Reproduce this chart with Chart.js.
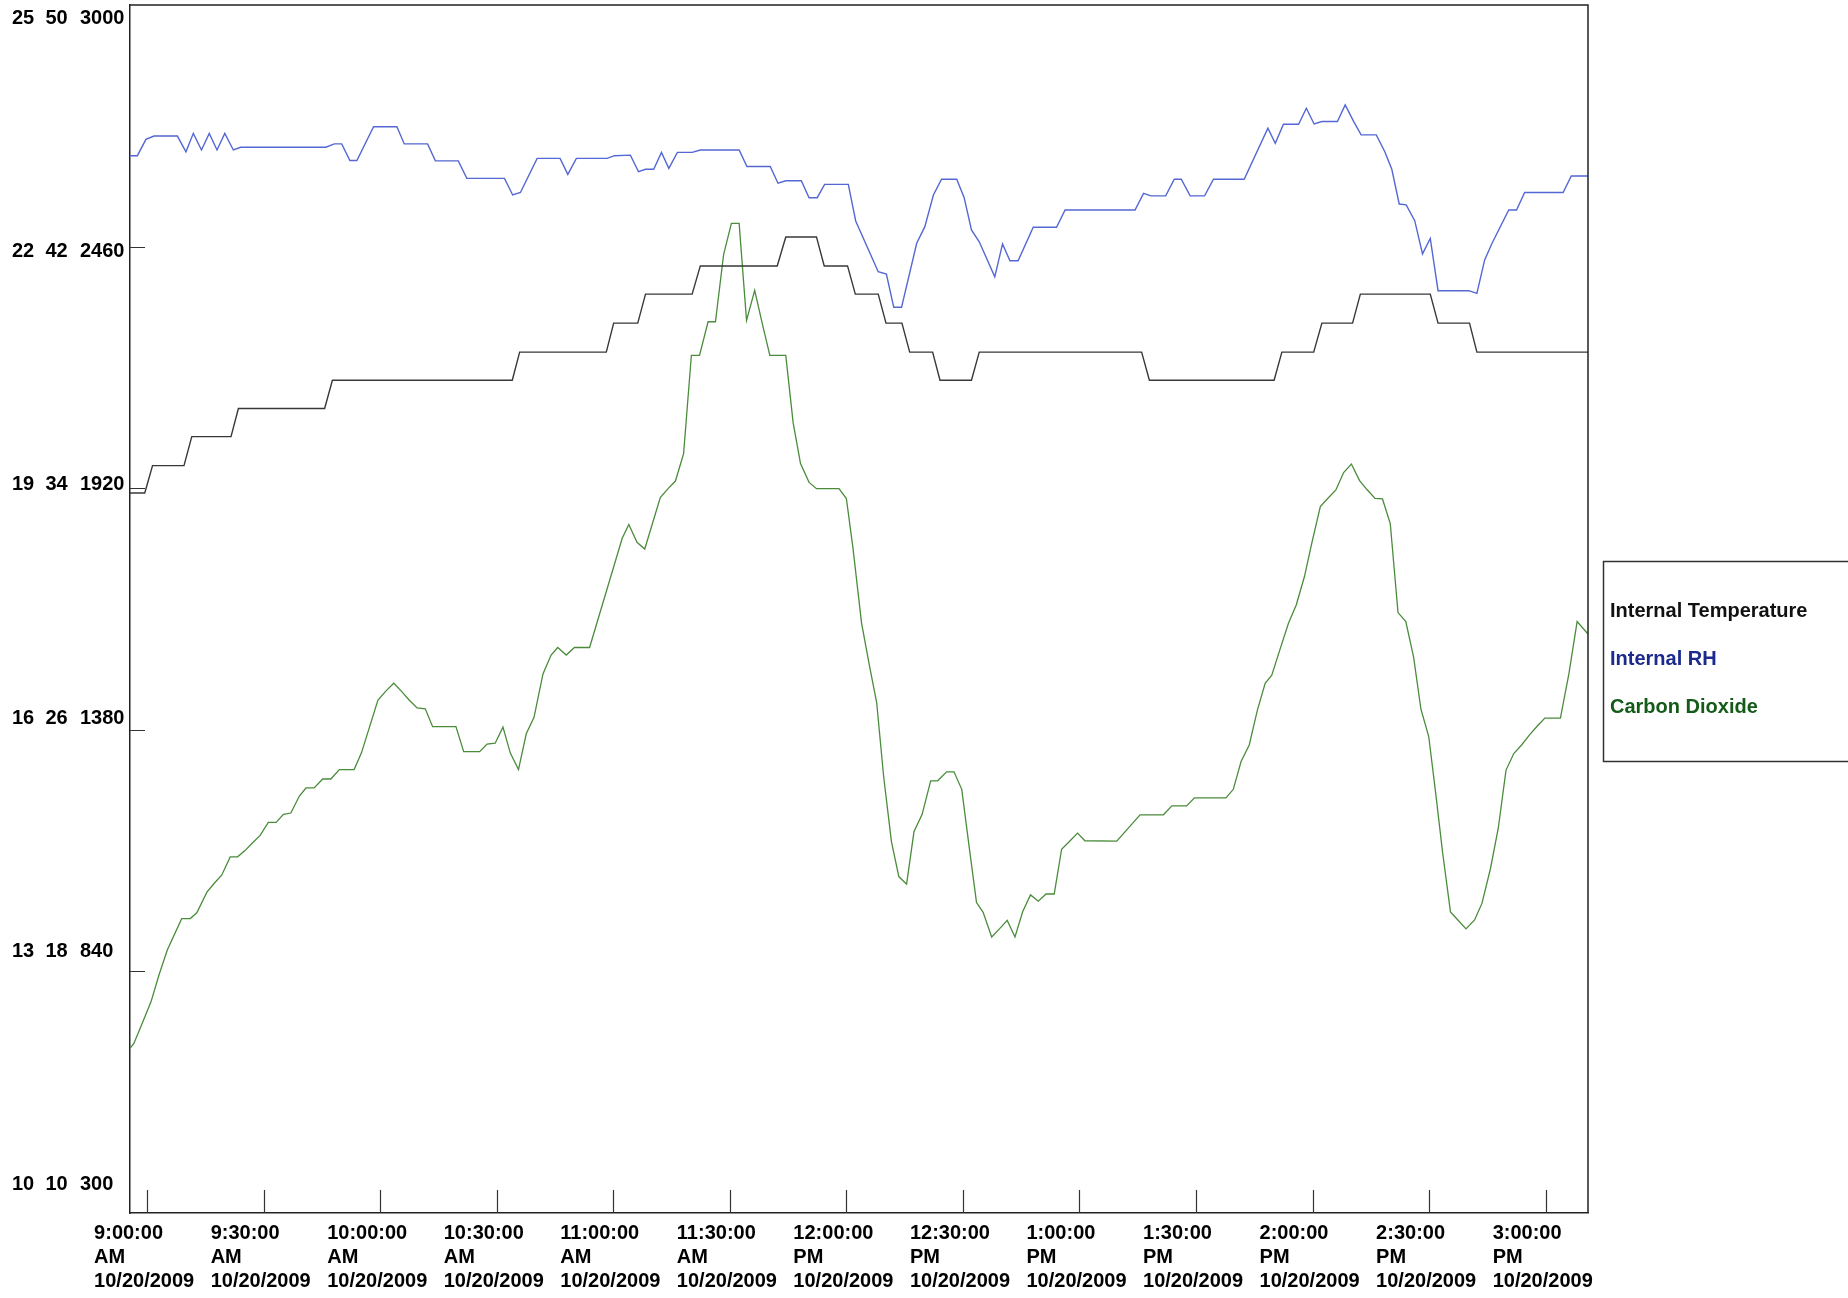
<!DOCTYPE html>
<html>
<head>
<meta charset="utf-8">
<title>Internal conditions log</title>
<script src="https://cdn.jsdelivr.net/npm/chart.js@4.4.1/dist/chart.umd.min.js"></script>
<style>
  html, body { margin: 0; padding: 0; background: #ffffff; }
  #wrap { width: 1848px; height: 1298px; position: relative; }
  canvas { display: block; }
</style>
</head>
<body>
<div id="wrap"><canvas id="chart" width="1848" height="1298"></canvas></div>
<script>
// ---- logged readings (time in minutes after 9:00 AM) ----
const seriesNames = ['Internal Temperature', 'Internal RH', 'Carbon Dioxide'];

const tempMinutes = [
  -4.4, -0.6, 1.4, 9.5, 11.5, 21.6, 23.5, 45.7, 47.7, 94.0,
  95.9, 118.2, 120.1, 126.3, 128.3, 140.3, 142.4, 162.2, 164.4, 172.3,
  174.3, 180.3, 182.3, 188.2, 190.2, 194.3, 196.3, 202.2, 204.1, 212.2,
  214.2, 256.0, 258.0, 290.1, 292.1, 300.3, 302.4, 310.3, 312.3, 330.3,
  332.3, 340.4, 342.3, 370.9
];
const tempValues = [
  18.94, 18.94, 19.28, 19.28, 19.64, 19.64, 19.99, 19.99, 20.34, 20.34,
  20.69, 20.69, 21.05, 21.05, 21.41, 21.41, 21.76, 21.76, 22.12, 22.12,
  21.76, 21.76, 21.41, 21.41, 21.05, 21.05, 20.69, 20.69, 20.34, 20.34,
  20.69, 20.69, 20.34, 20.34, 20.69, 20.69, 21.05, 21.05, 21.41, 21.41,
  21.05, 21.05, 20.69, 20.69
];

const rhMinutes = [
  -4.4, -2.5, -0.3, 1.8, 7.8, 10.0, 11.9, 14.0, 16.0, 18.0,
  20.0, 22.2, 24.1, 46.0, 48.2, 50.1, 52.2, 54.0, 58.3, 64.3,
  66.2, 72.2, 74.2, 80.1, 82.3, 92.0, 94.1, 96.1, 100.4, 106.3,
  108.3, 110.5, 118.4, 120.3, 124.4, 126.5, 128.3, 130.4, 132.4, 134.3,
  136.5, 140.3, 142.4, 152.4, 154.4, 160.4, 162.4, 164.4, 168.4, 170.4,
  172.5, 174.4, 180.5, 182.4, 188.2, 190.3, 192.2, 194.2, 198.1, 200.2,
  202.4, 204.5, 208.4, 210.3, 212.2, 214.2, 218.2, 220.2, 222.1, 224.2,
  228.1, 234.1, 236.3, 254.3, 256.5, 258.4, 262.2, 264.4, 266.2, 268.5,
  272.2, 274.5, 282.4, 288.5, 290.4, 292.5, 296.4, 298.4, 300.4, 302.4,
  306.4, 308.4, 310.6, 312.5, 316.4, 318.6, 320.4, 322.3, 324.1, 326.3,
  328.3, 330.3, 332.3, 340.2, 342.3, 344.3, 346.2, 350.5, 352.5, 354.6,
  364.5, 366.6, 370.9
];
const rhValues = [
  45.01, 45.01, 45.55, 45.66, 45.66, 45.14, 45.75, 45.20, 45.75, 45.20,
  45.75, 45.20, 45.29, 45.29, 45.40, 45.40, 44.85, 44.85, 45.97, 45.97,
  45.40, 45.40, 44.84, 44.84, 44.26, 44.26, 43.71, 43.79, 44.92, 44.92,
  44.39, 44.92, 44.92, 45.01, 45.03, 44.48, 44.56, 44.56, 45.12, 44.59,
  45.12, 45.12, 45.20, 45.20, 44.65, 44.65, 44.10, 44.18, 44.18, 43.62,
  43.62, 44.06, 44.06, 42.85, 41.17, 41.09, 39.99, 39.99, 42.11, 42.66,
  43.71, 44.23, 44.23, 43.63, 42.55, 42.16, 41.00, 42.09, 41.53, 41.53,
  42.64, 42.64, 43.21, 43.21, 43.76, 43.68, 43.68, 44.23, 44.23, 43.68,
  43.68, 44.23, 44.23, 45.92, 45.42, 46.05, 46.05, 46.58, 46.06, 46.14,
  46.14, 46.69, 46.14, 45.70, 45.70, 45.14, 44.56, 43.41, 43.38, 42.86,
  41.76, 42.27, 40.54, 40.54, 40.45, 41.56, 42.11, 43.21, 43.21, 43.79,
  43.79, 44.34, 44.34
];

const co2Minutes = [
  -4.4, -3.4, -1.2, 1.0, 3.1, 5.2, 8.9, 11.1, 12.8, 15.4,
  17.3, 19.2, 21.4, 23.3, 25.2, 27.1, 29.1, 31.2, 33.2, 35.1,
  37.0, 39.2, 40.9, 43.0, 45.2, 47.3, 49.5, 53.3, 55.2, 59.4,
  61.5, 63.5, 65.5, 67.5, 69.5, 71.6, 73.5, 79.5, 81.5, 85.6,
  87.5, 89.6, 91.6, 93.5, 95.6, 97.6, 99.6, 101.9, 104.0, 105.7,
  107.9, 110.0, 113.9, 122.3, 124.0, 126.1, 128.1, 132.1, 134.1, 136.0,
  138.1, 140.1, 142.2, 144.4, 146.3, 148.4, 150.4, 152.4, 154.3, 156.4,
  158.4, 160.3, 164.4, 166.3, 168.2, 170.4, 172.3, 178.1, 180.0, 181.7,
  183.9, 185.9, 187.8, 189.6, 191.6, 193.5, 195.5, 197.4, 199.5, 201.7,
  203.5, 205.8, 207.7, 209.7, 211.6, 213.5, 215.2, 217.4, 219.4, 221.4,
  223.4, 225.4, 227.4, 229.4, 231.4, 233.5, 235.4, 237.6, 239.5, 241.4,
  249.6, 255.6, 261.6, 263.8, 267.6, 269.6, 277.7, 279.6, 281.6, 283.7,
  285.8, 287.8, 289.5, 291.7, 293.8, 295.8, 297.9, 299.8, 302.0, 303.9,
  306.0, 308.0, 310.0, 312.1, 314.0, 316.1, 318.0, 320.0, 322.0, 324.0,
  326.0, 327.9, 329.9, 331.6, 333.5, 335.5, 337.4, 339.5, 341.7, 343.6,
  345.8, 347.8, 349.8, 351.8, 353.8, 355.8, 357.8, 359.8, 363.8, 366.0,
  368.1, 370.9
];
const co2Values = [
  668, 679, 725, 772, 833, 888, 958, 958, 971, 1017,
  1037, 1055, 1096, 1096, 1110, 1127, 1144, 1173, 1173, 1191,
  1194, 1232, 1250, 1250, 1270, 1270, 1291, 1291, 1329, 1446,
  1467, 1484, 1466, 1446, 1429, 1427, 1387, 1387, 1331, 1331,
  1348, 1350, 1386, 1328, 1291, 1371, 1408, 1505, 1547, 1564,
  1547, 1564, 1564, 1808, 1839, 1799, 1784, 1899, 1919, 1936,
  1997, 2217, 2217, 2292, 2292, 2442, 2512, 2512, 2295, 2362,
  2286, 2217, 2217, 2066, 1975, 1933, 1919, 1919, 1897, 1786,
  1619, 1525, 1441, 1275, 1130, 1052, 1035, 1152, 1191, 1266,
  1266, 1286, 1286, 1247, 1119, 994, 972, 917, 935, 954,
  917, 974, 1011, 997, 1013, 1013, 1113, 1132, 1149, 1132,
  1131, 1190, 1190, 1210, 1210, 1228, 1228, 1247, 1309, 1346,
  1424, 1484, 1502, 1562, 1618, 1659, 1722, 1797, 1879, 1897,
  1916, 1955, 1974, 1937, 1917, 1897, 1896, 1841, 1642, 1622,
  1543, 1426, 1365, 1245, 1104, 973, 955, 935, 955, 992,
  1070, 1160, 1290, 1327, 1346, 1368, 1388, 1406, 1406, 1506,
  1622, 1594
];

// ---- axis ticks ----
const tempTicks = [10, 13, 16, 19, 22, 25];
const rhTicks = [10, 18, 26, 34, 42, 50];
const co2Ticks = [300, 840, 1380, 1920, 2460, 3000];
const timeTickMinutes = [0, 30, 60, 90, 120, 150, 180, 210, 240, 270, 300, 330, 360];
const timeRange = [-4.4, 370.9];
const logDate = '10/20/2009';

const FONT = '"Liberation Sans", Arial, Helvetica, sans-serif';

function clockLabel(min) {
  const total = 9 * 60 + min;
  const h24 = Math.floor(total / 60);
  const mm = total % 60;
  const h12 = ((h24 + 11) % 12) + 1;
  return [h12 + ':' + String(mm).padStart(2, '0') + ':00', h24 < 12 ? 'AM' : 'PM', logDate];
}

const toPoints = (xs, ys) => xs.map((x, i) => ({ x: x, y: ys[i] }));

// Plot box, inward tick marks, stacked value labels and the text legend
const framePlugin = {
  id: 'frame',
  afterDraw(chart) {
    const { ctx, chartArea: a, scales } = chart;
    ctx.save();

    ctx.strokeStyle = '#222';
    ctx.lineWidth = 1.5;
    ctx.beginPath();
    ctx.moveTo(a.left, a.top);
    ctx.lineTo(a.right, a.top);
    ctx.lineTo(a.right, a.bottom);
    ctx.stroke();

    ctx.strokeStyle = '#333';
    ctx.lineWidth = 1.2;
    ctx.beginPath();
    scales.x.ticks.forEach(t => {
      const px = Math.round(scales.x.getPixelForValue(t.value)) + 0.5;
      ctx.moveTo(px, a.bottom);
      ctx.lineTo(px, a.bottom - 23);
    });
    tempTicks.slice(1, -1).forEach(v => {
      const py = Math.round(scales.yT.getPixelForValue(v)) + 0.5;
      ctx.moveTo(a.left, py);
      ctx.lineTo(a.left + 15, py);
    });
    ctx.stroke();

    // three value columns per row: temperature, RH, CO2
    ctx.fillStyle = '#000';
    ctx.font = 'bold 20px ' + FONT;
    ctx.textAlign = 'left';
    ctx.textBaseline = 'middle';
    tempTicks.forEach((t, i) => {
      const py = scales.yT.getPixelForValue(t);
      const y = a.top + 13 + (py - a.top) * 0.966;
      ctx.fillText(String(t), 12, y);
      ctx.fillText(String(rhTicks[i]), 45.5, y);
      ctx.fillText(String(co2Ticks[i]), 80, y);
    });

    // legend
    const legendColors = ['#111111', '#1b2a8c', '#145a18'];
    ctx.strokeStyle = '#333';
    ctx.lineWidth = 1.5;
    ctx.strokeRect(1603.5, 561.5, 400, 200);
    ctx.font = 'bold 20px ' + FONT;
    chart.data.datasets.forEach((ds, i) => {
      ctx.fillStyle = legendColors[i];
      ctx.fillText(ds.label, 1610, 611 + i * 48);
    });

    ctx.restore();
  }
};

new Chart(document.getElementById('chart'), {
  type: 'line',
  data: {
    datasets: [
      { label: seriesNames[0], data: toPoints(tempMinutes, tempValues), yAxisID: 'yT',
        borderColor: '#383838', borderWidth: 1.4 },
      { label: seriesNames[1], data: toPoints(rhMinutes, rhValues), yAxisID: 'yR',
        borderColor: '#5467d4', borderWidth: 1.4 },
      { label: seriesNames[2], data: toPoints(co2Minutes, co2Values), yAxisID: 'yC',
        borderColor: '#4a8c3b', borderWidth: 1.3 }
    ]
  },
  options: {
    responsive: false,
    devicePixelRatio: 1,
    animation: false,
    elements: { point: { radius: 0 }, line: { tension: 0, fill: false } },
    layout: { padding: { top: 5, right: 260, bottom: 0, left: 0 } },
    plugins: { legend: { display: false }, tooltip: { enabled: false } },
    scales: {
      x: {
        type: 'linear', position: 'bottom',
        min: timeRange[0], max: timeRange[1],
        afterBuildTicks: s => { s.ticks = timeTickMinutes.map(v => ({ value: v })); },
        afterFit: s => { s.height = 85; },
        grid: { display: false, drawTicks: false },
        border: { display: true, color: '#222', width: 1.5 },
        ticks: {
          autoSkip: false, maxRotation: 0, minRotation: 0,
          align: 'start', labelOffset: -53, padding: 9,
          color: '#000',
          font: { family: FONT, size: 20, weight: 'bold', lineHeight: 1.18 },
          callback: v => clockLabel(v)
        }
      },
      yT: {
        type: 'linear', position: 'left', min: tempTicks[0], max: tempTicks[tempTicks.length - 1],
        afterFit: s => { s.width = 130; },
        grid: { display: false, drawTicks: false },
        border: { display: true, color: '#222', width: 1.5 },
        ticks: { display: false }
      },
      yR: { type: 'linear', display: false, min: rhTicks[0], max: rhTicks[rhTicks.length - 1] },
      yC: { type: 'linear', display: false, min: co2Ticks[0], max: co2Ticks[co2Ticks.length - 1] }
    }
  },
  plugins: [framePlugin]
});
</script>
</body>
</html>
